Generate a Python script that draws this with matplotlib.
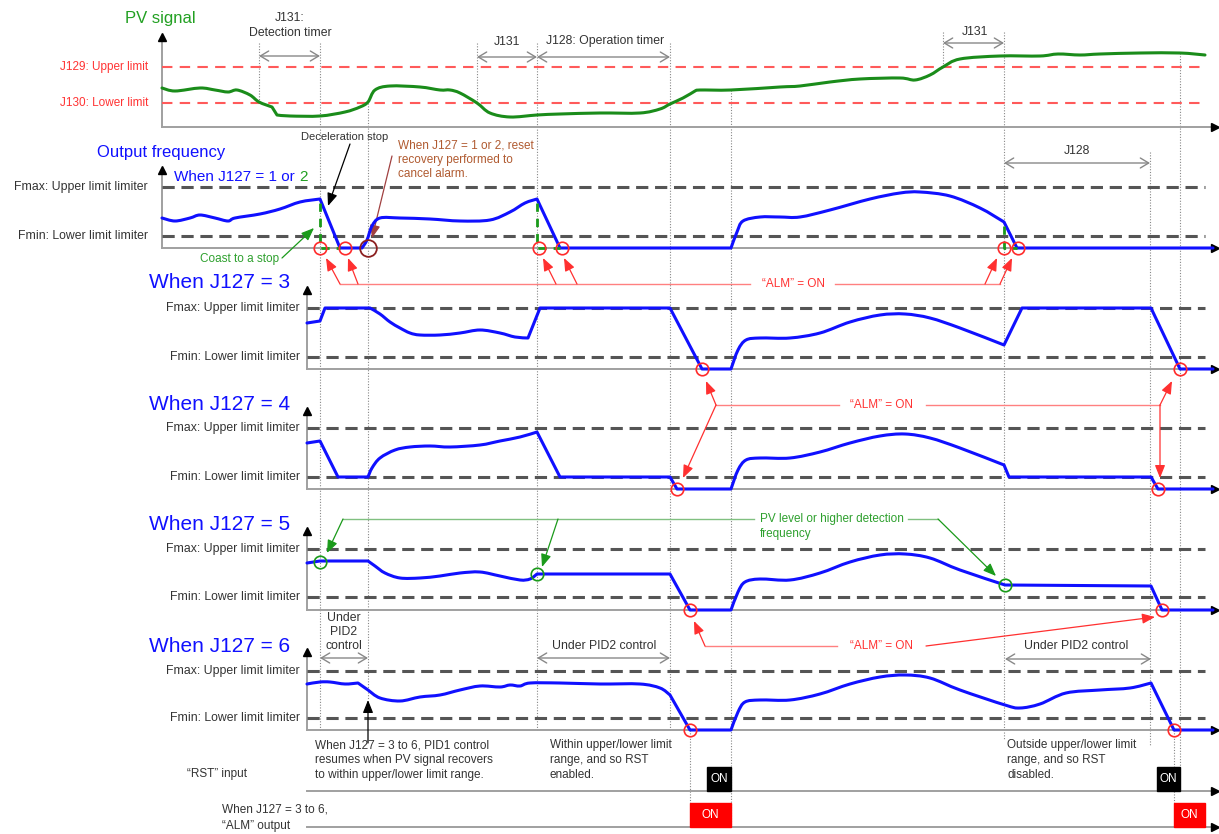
import matplotlib
matplotlib.use('Agg')
import matplotlib.pyplot as plt
from matplotlib.patches import Rectangle, PathPatch
from matplotlib.path import Path

plt.rcParams['font.family'] = ['Liberation Sans', 'DejaVu Sans']

W, H = 1219, 834
fig = plt.figure(figsize=(W / 100, H / 100), dpi=100)
ax = fig.add_axes([0, 0, 1, 1])
ax.set_xlim(0, W)
ax.set_ylim(H, 0)
ax.axis('off')

# ---------------- data (time axis shared, values in panel units) ----------------
pv_x = [162, 175, 200, 215, 228, 237, 250, 259, 272, 277, 290, 320, 345, 360, 368, 375, 390, 420, 440, 450,
        460, 477, 490, 510, 537, 560, 600, 640, 660, 670, 683, 695, 700, 731, 780, 800, 830, 860, 900, 915,
        930, 943, 960, 1000, 1040, 1058, 1080, 1100, 1140, 1180, 1205]
pv_y = [88, 91, 88, 90, 92, 90, 95, 102, 107, 115, 116, 116, 112, 107, 102, 90, 86, 87, 90, 90,
        93, 103, 113, 117, 115, 114, 113, 113, 109, 104, 98, 91, 90, 90, 87, 86, 82, 79, 78, 80,
        75, 67, 59, 56, 56, 54, 55, 54, 53, 53, 55]
pv_corners = [272, 277, 695]

f12_x = [162, 175, 190, 200, 215, 228, 235, 260, 280, 300, 320, 340, 362, 367, 372, 380, 400, 430, 460, 490,
         510, 525, 537, 560, 731, 737, 743, 760, 780, 800, 830, 870, 900, 920, 950, 980, 1004, 1017, 1213]
f12_y = [218, 221, 218, 215, 218, 221, 218, 214, 209, 202, 199, 248, 248, 240, 226, 218, 218, 219, 221, 220,
         212, 203, 199, 248, 248, 232, 221, 217, 217, 217, 210, 199, 193, 192, 196, 208, 222, 248, 248]
f12_corners = [320, 340, 362, 537, 560, 731, 1004, 1017]

f3_x = [307, 320, 325, 370, 380, 390, 400, 410, 420, 440, 460, 480, 500, 515, 528, 540, 670, 702, 731,
        738, 746, 760, 790, 820, 850, 880, 905, 930, 960, 1004, 1022, 1151, 1180, 1213]
f3_y = [323, 321, 308, 308, 314, 322, 328, 333, 335, 335, 333, 330, 333, 337, 338, 308, 308, 369, 369,
        350, 340, 338, 338, 333, 322, 315, 314, 318, 328, 345, 308, 308, 369, 369]
f3_corners = [320, 325, 370, 528, 540, 670, 702, 731, 1004, 1022, 1151, 1180]

f4_x = [307, 320, 338, 368, 372, 380, 395, 410, 430, 450, 480, 500, 520, 537, 560, 670, 677, 731, 738, 746,
        760, 790, 820, 850, 880, 905, 930, 960, 1004, 1009, 1151, 1158, 1213]
f4_y = [443, 441, 477, 477, 468, 458, 450, 447, 446, 447, 445, 441, 437, 432, 477, 477, 489, 489, 470, 460,
        458, 458, 452, 443, 436, 434, 438, 448, 465, 477, 477, 489, 489]
f4_corners = [320, 338, 368, 537, 560, 670, 677, 731, 1004, 1009, 1151, 1158]

f5_x = [307, 320, 368, 375, 385, 400, 420, 440, 460, 480, 500, 520, 530, 537, 670, 690, 731, 738, 745, 760,
        790, 820, 850, 880, 905, 930, 960, 1005, 1151, 1162, 1213]
f5_y = [563, 561, 561, 566, 573, 578, 578, 576, 573, 572, 576, 580, 579, 574, 574, 610, 610, 592, 582, 579,
        580, 573, 562, 555, 554, 558, 570, 585, 586, 610, 610]
f5_corners = [320, 368, 537, 670, 690, 731, 1005, 1151, 1162]

f6_x = [307, 320, 330, 345, 358, 368, 380, 400, 420, 440, 460, 480, 500, 510, 520, 530, 560, 600, 640,
        660, 670, 690, 731, 738, 745, 760, 790, 820, 850, 880, 905, 930, 960, 1005, 1020, 1040, 1066, 1100,
        1130, 1151, 1174, 1213]
f6_y = [684, 682, 682, 684, 683, 690, 698, 701, 697, 695, 690, 686, 687, 685, 686, 683, 683, 684, 684,
        688, 695, 730, 730, 712, 702, 700, 700, 694, 684, 677, 675, 678, 690, 705, 708, 704, 693, 690,
        688, 683, 730, 730]
f6_corners = [358, 368, 670, 690, 731, 1151, 1174]

# panel geometry: axis x, axis top, upper level, lower level, baseline, label right x
panel_axis_x = [162, 162, 307, 307, 307, 307]
panel_top = [37, 170, 290, 411, 531, 652]
panel_upper = [67, 187, 308, 428, 549, 671]
panel_lower = [103, 236, 357, 477, 597, 718]
panel_base = [127, 248, 369, 489, 610, 730]
panel_label_x = [148, 148, 300, 300, 300, 300]
panel_titles = ['When J127 = 3', 'When J127 = 4', 'When J127 = 5', 'When J127 = 6']
title_y = [283, 404, 525, 646]

# dotted event lines: (x, y_start, y_end)
event_lines = [(259, 43, 103), (320, 43, 730), (368, 103, 700), (477, 43, 103), (537, 43, 730),
               (670, 43, 730), (690, 730, 803), (731, 90, 827), (943, 32, 67), (1004, 32, 740),
               (1150, 152, 745), (1180, 53, 767), (1174, 730, 803)]

rst_on = [(707, 731), (1157, 1180)]
alm_on = [(690, 731), (1174, 1205)]

alarm_red = [(320, 248), (345, 248), (539, 248), (562, 248), (1004, 248), (1018, 248),
             (702, 369), (1180, 369), (677, 489), (1158, 489), (690, 610), (1162, 610),
             (690, 730), (1174, 730)]
pvdet_green = [(320, 562), (537, 574), (1005, 585)]

X_END = 1213
BLUE = '#1010ff'
GRAY_TXT = '#333333'
RED_TXT = '#ff3333'
RED_LINE = '#ff8080'
GREEN = '#1a8c1a'
GREEN_TXT = '#2ea02e'
BROWN = '#b05a30'


def smooth_path(xs, ys, corners):
    """Bezier path through the points; sharp at corner x positions."""
    pts = list(zip(xs, ys))
    cut = [0] + [i for i, x in enumerate(xs) if x in corners and 0 < i < len(xs) - 1] + [len(xs) - 1]
    verts, codes = [pts[0]], [Path.MOVETO]
    for a, b in zip(cut[:-1], cut[1:]):
        seg = pts[a:b + 1]
        n = len(seg)
        for i in range(n - 1):
            p0 = seg[i - 1] if i > 0 else seg[i]
            p1, p2 = seg[i], seg[i + 1]
            p3 = seg[i + 2] if i + 2 < n else seg[i + 1]
            c1 = (p1[0] + (p2[0] - p0[0]) / 6, p1[1] + (p2[1] - p0[1]) / 6)
            c2 = (p2[0] - (p3[0] - p1[0]) / 6, p2[1] - (p3[1] - p1[1]) / 6)
            verts += [c1, c2, p2]
            codes += [Path.CURVE4] * 3
    return Path(verts, codes)


def draw_curve(xs, ys, corners, color, lw=2.2):
    ax.add_patch(PathPatch(smooth_path(xs, ys, corners), fill=False, edgecolor=color, lw=lw,
                           joinstyle='round', capstyle='round', zorder=4))


def arrow(x0, y0, x1, y1, color, lw=0.9, hl=0.55, hw=0.22, ms=14):
    ax.annotate('', xy=(x1, y1), xytext=(x0, y0),
                arrowprops=dict(arrowstyle=f'-|>,head_length={hl},head_width={hw}', color=color, lw=lw,
                                shrinkA=0, shrinkB=0, mutation_scale=ms))


def darrow(x0, x1, y):
    ax.annotate('', xy=(x1, y), xytext=(x0, y),
                arrowprops=dict(arrowstyle='<->,head_length=0.5,head_width=0.3', color='#888888', lw=1.0,
                                shrinkA=0, shrinkB=0, mutation_scale=12))


def txt(x, y, s, size=8.5, color=GRAY_TXT, ha='left', va='center', **kw):
    return ax.text(x, y, s, fontsize=size, color=color, ha=ha, va=va, **kw)


# ---------------- event lines ----------------
for x, y0, y1 in event_lines:
    ax.plot([x, x], [y0, y1], color='#888888', lw=0.8, ls=(0, (1, 1.5)), zorder=1)

# ---------------- axes ----------------
for i in range(6):
    axx, top, base = panel_axis_x[i], panel_top[i], panel_base[i]
    ax.plot([axx, axx], [base, top + 3], color='#a0a0a0', lw=1.4, zorder=2)
    ax.plot([axx, X_END], [base, base], color='#a0a0a0', lw=1.4, zorder=2)
    ax.plot([axx], [top], marker='^', color='black', ms=6, zorder=3)
    ax.plot([1215], [base], marker='>', color='black', ms=6, zorder=3)

for yb in (791, 827):
    ax.plot([307, X_END], [yb, yb], color='#a0a0a0', lw=1.4, zorder=2)
    ax.plot([1215], [yb], marker='>', color='black', ms=6, zorder=3)

# limit lines
ax.plot([162, 1205], [panel_upper[0]] * 2, color='#ff5a5a', lw=1.5, ls=(0, (5, 3.5)), zorder=2)
ax.plot([162, 1205], [panel_lower[0]] * 2, color='#ff5a5a', lw=1.5, ls=(0, (5, 3.5)), zorder=2)
for i in range(1, 6):
    axx = panel_axis_x[i]
    for yy in (panel_upper[i], panel_lower[i]):
        ax.plot([axx, 1205], [yy, yy], color='#555555', lw=2.2, ls=(0, (4, 2.2)), zorder=2)

# labels
txt(148, panel_upper[0], 'J129: Upper limit', size=8.5, color=RED_TXT, ha='right')
txt(148, panel_lower[0], 'J130: Lower limit', size=8.5, color=RED_TXT, ha='right')
for i in range(1, 6):
    txt(panel_label_x[i], panel_upper[i], 'Fmax: Upper limit limiter', size=8.8, ha='right')
    txt(panel_label_x[i], panel_lower[i], 'Fmin: Lower limit limiter', size=8.8, ha='right')

txt(125, 18, 'PV signal', size=12, color='#22a022')
txt(97, 152, 'Output frequency', size=12, color=BLUE)
t12 = txt(174, 177, 'When J127 = 1 or ', size=11, color=BLUE)
fig.canvas.draw()
bb = t12.get_window_extent(renderer=fig.canvas.get_renderer())
x_end = ax.transData.inverted().transform((bb.x1, bb.y0))[0]
txt(x_end, 177, '2', size=11, color='#22a022')
for s, yy in zip(panel_titles, title_y):
    txt(149, yy, s, size=15, color=BLUE)

# ---------------- curves ----------------
draw_curve(pv_x, pv_y, pv_corners, GREEN)
for xs, ys, cs in [(f12_x, f12_y, f12_corners), (f3_x, f3_y, f3_corners), (f4_x, f4_y, f4_corners),
                   (f5_x, f5_y, f5_corners), (f6_x, f6_y, f6_corners)]:
    draw_curve(xs, ys, cs, BLUE)

# coast-to-stop green dashes
for xc, ytop, xe in [(320, 199, 340), (537, 199, 560), (1004, 222, 1017)]:
    ax.plot([xc, xc, xe], [ytop + 4, 248, 248], color='#1a9a1a', lw=2.0, ls=(0, (3, 2.5)), zorder=5)

# circles
for x, y in alarm_red:
    ax.plot(x, y, 'o', mfc='none', mec='#ff2a2a', ms=9, mew=1.2, zorder=6)
for x, y in pvdet_green:
    ax.plot(x, y, 'o', mfc='none', mec='#1a9a1a', ms=9, mew=1.2, zorder=6)
ax.plot(368, 248, 'o', mfc='none', mec='#8b2020', ms=12, mew=1.3, zorder=6)

# ---------------- top timers ----------------
txt(290, 18, 'J131:', size=8.8, ha='center')
txt(290, 33, 'Detection timer', size=8.8, ha='center')
darrow(259, 320, 56)
txt(507, 42, 'J131', size=8.8, ha='center')
darrow(477, 537, 57)
txt(605, 41, 'J128: Operation timer', size=8.8, ha='center')
darrow(537, 670, 57)
txt(975, 32, 'J131', size=8.8, ha='center')
darrow(943, 1004, 43)
txt(1077, 151, 'J128', size=8.8, ha='center')
darrow(1004, 1150, 163)

# ---------------- panel 1/2 annotations ----------------
txt(345, 137, 'Deceleration stop', size=8, ha='center')
arrow(350, 144, 328, 206, 'black')
txt(279, 259, 'Coast to a stop', size=8.5, color=GREEN_TXT, ha='right')
arrow(282, 258, 314, 228, '#1a9a1a')
for k, s in enumerate(['When J127 = 1 or 2, reset', 'recovery performed to', 'cancel alarm.']):
    txt(398, 145 + 14.5 * k, s, size=8.5, color=BROWN)
arrow(392, 156, 372, 238, '#a04040')

# ALM = ON (panel 1/2)
ax.plot([340, 750], [284, 284], color=RED_LINE, lw=1.0, zorder=3)
ax.plot([835, 1000], [284, 284], color=RED_LINE, lw=1.0, zorder=3)
txt(793, 284, '“ALM” = ON', size=8.5, color=RED_TXT, ha='center')
for (x0, y0), (x1, y1) in [((340, 284), (326, 258)), ((358, 284), (348, 258)),
                           ((556, 284), (543, 258)), ((577, 284), (564, 258)),
                           ((985, 284), (997, 258)), ((1000, 284), (1012, 258))]:
    arrow(x0, y0, x1, y1, '#ff3030')

# ALM = ON (panel 3/4)
ax.plot([716, 839], [405, 405], color=RED_LINE, lw=1.0, zorder=3)
ax.plot([926, 1160], [405, 405], color=RED_LINE, lw=1.0, zorder=3)
txt(881, 405, '“ALM” = ON', size=8.5, color=RED_TXT, ha='center')
for (x0, y0), (x1, y1) in [((716, 405), (706, 381)), ((716, 405), (683, 478)),
                           ((1160, 405), (1172, 381)), ((1160, 405), (1160, 478))]:
    arrow(x0, y0, x1, y1, '#ff3030')

# ALM = ON (panel 5/6)
ax.plot([705, 837], [646, 646], color=RED_LINE, lw=1.0, zorder=3)
txt(881, 646, '“ALM” = ON', size=8.5, color=RED_TXT, ha='center')
arrow(705, 646, 694, 621, '#ff3030')
arrow(926, 646, 1155, 617, '#ff3030')

# PV level detection (panel 5)
ax.plot([343, 754], [519, 519], color='#80c080', lw=1.0, zorder=3)
ax.plot([908, 938], [519, 519], color='#80c080', lw=1.0, zorder=3)
arrow(343, 519, 327, 553, '#1a9a1a')
arrow(558, 519, 542, 567, '#1a9a1a')
arrow(938, 519, 996, 576, '#1a9a1a')
txt(760, 519, 'PV level or higher detection', size=8.5, color=GREEN_TXT)
txt(760, 534, 'frequency', size=8.5, color=GREEN_TXT)

# PID2 control spans
for k, s in enumerate(['Under', 'PID2', 'control']):
    txt(344, 618 + 14 * k, s, size=8.8, ha='center')
darrow(320, 368, 658)
txt(604, 646, 'Under PID2 control', size=8.8, ha='center')
darrow(537, 670, 658)
txt(1076, 646, 'Under PID2 control', size=8.8, ha='center')
darrow(1005, 1151, 659)

# PID1 resume arrow
arrow(368, 743, 368, 700, 'black', lw=0.9)

# bottom texts
for k, s in enumerate(['When J127 = 3 to 6, PID1 control', 'resumes when PV signal recovers',
                       'to within upper/lower limit range.']):
    txt(315, 745 + 15 * k, s)
for k, s in enumerate(['Within upper/lower limit', 'range, and so RST', 'enabled.']):
    txt(550, 745 + 15 * k, s)
for k, s in enumerate(['Outside upper/lower limit', 'range, and so RST', 'disabled.']):
    txt(1007, 745 + 15 * k, s)

txt(187, 774, '“RST” input')
txt(222, 810, 'When J127 = 3 to 6,')
txt(222, 826, '“ALM” output')

for x0, x1 in rst_on:
    ax.add_patch(Rectangle((x0, 767), x1 - x0, 791 - 767, color='black', zorder=5))
    txt((x0 + x1) / 2, 779, 'ON', size=8.5, color='white', ha='center', zorder=6)
for x0, x1 in alm_on:
    ax.add_patch(Rectangle((x0, 803), x1 - x0, 827 - 803, color='#ff0000', zorder=5))
    txt((x0 + x1) / 2, 815, 'ON', size=8.5, color='white', ha='center', zorder=6)

fig.savefig('out.png', dpi=100)
